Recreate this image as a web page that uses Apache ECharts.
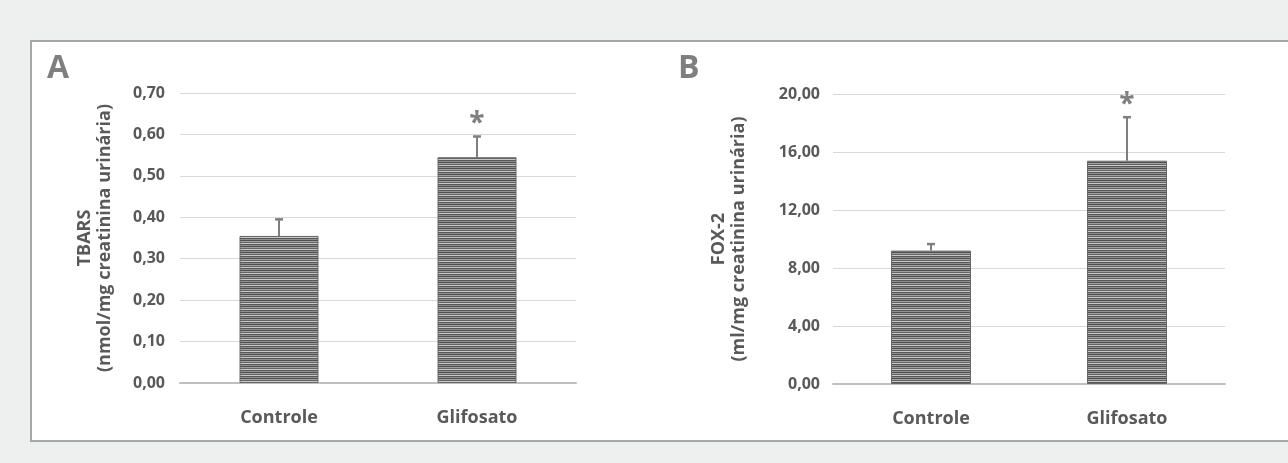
<!DOCTYPE html>
<html>
<head>
<meta charset="utf-8">
<script src="https://cdn.jsdelivr.net/npm/echarts@6/dist/echarts.min.js"></script>
<style>
html,body{margin:0;padding:0;background:#eeefef;}
#c{width:1288px;height:463px;}
</style>
</head>
<body>
<div id="c"></div>
<script>
const categories = ['Controle', 'Glifosato'];
const tbarsMean = [0.355, 0.545];
const tbarsErr = [0.040, 0.050];
const foxMean = [9.2, 15.4];
const foxErr = [0.45, 3.0];
const significant = [false, true];
const tbarsAxis = { min: 0, max: 0.7, interval: 0.1 };
const foxAxis = { min: 0, max: 20, interval: 4 };

function stripePattern() {
  const cv = document.createElement('canvas');
  cv.width = 4; cv.height = 6;
  const ctx = cv.getContext('2d');
  const rows = ['#505050', '#a0a0a0', '#646464', '#c8c8c8', '#585858', '#909090'];
  rows.forEach((c, i) => { ctx.fillStyle = c; ctx.fillRect(0, i, 4, 1); });
  return { image: cv, repeat: 'repeat' };
}
const pattern = stripePattern();
const fmt = v => v.toFixed(2).replace('.', ',');
const font = '"Open Sans", "DejaVu Sans", sans-serif';
const txt = '#595959';

function errData(mean, err) {
  return mean.map((m, i) => [i, m + err[i], m, significant[i] ? 1 : 0]);
}
function renderErr(params, api) {
  const top = api.coord([api.value(0), api.value(1)]);
  const bot = api.coord([api.value(0), api.value(2)]);
  const children = [
    { type: 'line', shape: { x1: top[0], y1: bot[1], x2: top[0], y2: top[1] }, style: { stroke: '#7f7f7f', lineWidth: 2 } },
    { type: 'line', shape: { x1: top[0] - 4, y1: top[1], x2: top[0] + 4, y2: top[1] }, style: { stroke: '#7f7f7f', lineWidth: 2.5 } }
  ];
  if (api.value(3)) {
    children.push({ type: 'text', x: top[0], y: top[1] - 12, style: { text: '*', fill: '#7f7f7f', font: 'bold 28px ' + font, textAlign: 'center', textVerticalAlign: 'middle' } });
  }
  return { type: 'group', children };
}

function yAxis(idx, ax, name, gap, margin) {
  return {
    type: 'value', gridIndex: idx, min: ax.min, max: ax.max, interval: ax.interval,
    name: name, nameLocation: 'middle', nameGap: gap, nameRotate: 90,
    nameTextStyle: { color: txt, fontFamily: font, fontWeight: 'bold', fontSize: 18, lineHeight: 20, align: 'center' },
    axisLine: { show: false }, axisTick: { show: false },
    axisLabel: { color: txt, fontFamily: font, fontWeight: 'bold', fontSize: 16, margin: margin, formatter: fmt },
    splitLine: { lineStyle: { color: '#d9d9d9', width: 1 } }
  };
}
function xAxis(idx) {
  return {
    type: 'category', gridIndex: idx, data: categories,
    axisLine: { lineStyle: { color: '#bfbfbf', width: 2 } }, axisTick: { show: false },
    axisLabel: { color: txt, fontFamily: font, fontWeight: 'bold', fontSize: 18, margin: 26 }
  };
}

const chart = echarts.init(document.getElementById('c'));
chart.setOption({
  backgroundColor: '#eeefef',
  animation: false,
  graphic: [
    { type: 'rect', shape: { x: 31, y: 41, width: 1262, height: 400 }, style: { fill: '#ffffff', stroke: '#a6a6a6', lineWidth: 2 }, z: -10 },
    { type: 'text', left: 47, top: 53, style: { text: 'A', fill: '#7f7f7f', font: 'bold 32px ' + font } },
    { type: 'text', left: 678, top: 53, style: { text: 'B', fill: '#7f7f7f', font: 'bold 32px ' + font } }
  ],
  grid: [
    { left: 180, right: 712, top: 93, bottom: 80 },
    { left: 833, right: 63, top: 94, bottom: 79 }
  ],
  xAxis: [xAxis(0), xAxis(1)],
  yAxis: [
    yAxis(0, tbarsAxis, 'TBARS\n(nmol/mg creatinina urinária)', 65, 15),
    yAxis(1, foxAxis, 'FOX-2\n(ml/mg creatinina urinária)', 84, 13)
  ],
  series: [
    { type: 'bar', xAxisIndex: 0, yAxisIndex: 0, data: tbarsMean, barWidth: 79, itemStyle: { color: pattern, borderColor: '#666666', borderWidth: 1 } },
    { type: 'bar', xAxisIndex: 1, yAxisIndex: 1, data: foxMean, barWidth: 80, itemStyle: { color: pattern, borderColor: '#666666', borderWidth: 1 } },
    { type: 'custom', xAxisIndex: 0, yAxisIndex: 0, data: errData(tbarsMean, tbarsErr), renderItem: renderErr, z: 5 },
    { type: 'custom', xAxisIndex: 1, yAxisIndex: 1, data: errData(foxMean, foxErr), renderItem: renderErr, z: 5 }
  ]
});
</script>
</body>
</html>
